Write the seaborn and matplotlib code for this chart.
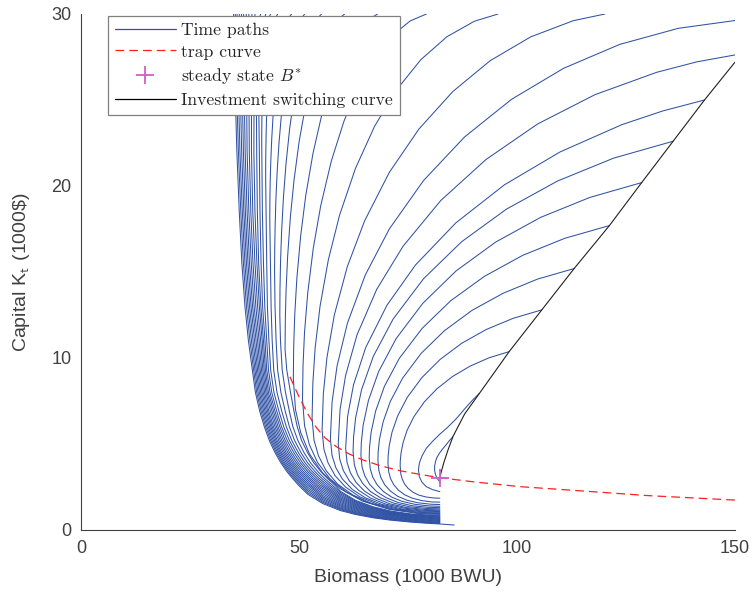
import numpy as np
import pandas as pd
import matplotlib
matplotlib.use("Agg")
import matplotlib.pyplot as plt
import seaborn as sns
from matplotlib.lines import Line2D

sns.set_theme(style="white")
plt.rcParams["font.family"] = ["Liberation Sans", "DejaVu Sans"]
plt.rcParams["mathtext.fontset"] = "cm"

# ---------------- values ----------------
TRAP_B = [47.9, 50, 52, 54, 56, 58.6, 61.5, 64.7, 68.6, 73.1, 78, 82.3, 90, 100.7, 114.4, 130, 150]
TRAP_K = [8.91, 7.75, 6.75, 5.95, 5.35, 4.84, 4.42, 4.07, 3.74, 3.45, 3.22, 3.04, 2.8, 2.52, 2.28, 2.0, 1.74]

SWITCH_B = [82.3, 82.6, 83.2, 84.1, 85.3, 88.0, 91.4, 98.2, 105.7, 113.1, 121.2, 128.6, 135.8, 143.0, 150.0]
SWITCH_K = [3.04, 3.35, 3.9, 4.6, 5.43, 6.75, 7.95, 10.37, 12.8, 15.2, 17.7, 20.2, 22.6, 25.0, 27.2]

STEADY_B = [82.3]
STEADY_K = [3.04]

# time paths traced point by point (B, K)
PATH_B = {
    "C1": [85.3, 84.5, 83.7, 82.9, 82.2, 81.6, 81.3, 81.1, 81.1, 81.25, 81.5, 81.9, 82.3],
    "C2": [91.4, 89.8, 88.2, 86.0, 84.0, 82.2, 80.5, 79.2, 78.2, 77.6, 77.4, 77.6, 78.2, 79.2, 80.6, 82.3],
    "C3": [98.2, 93.56, 89.18, 85.19, 81.68, 78.71, 76.34, 74.78, 73.87, 73.4, 73.24, 73.2, 73.34, 73.66, 74.2, 75.02, 76.11, 77.48, 79.12, 80.94, 82.3],
    "C4": [105.71, 99.15, 92.97, 87.34, 82.38, 78.18, 74.83, 72.64, 71.34, 70.68, 70.45, 70.4, 70.58, 71.0, 71.71, 72.78, 74.21, 75.99, 78.14, 80.52, 82.3],
    "C5": [113.1, 104.74, 96.86, 89.69, 83.37, 78.02, 73.74, 70.95, 69.3, 68.46, 68.16, 68.1, 68.31, 68.81, 69.66, 70.94, 72.64, 74.77, 77.33, 80.17, 82.3],
    "C6": [121.21, 110.97, 101.32, 92.54, 84.8, 78.24, 73.01, 69.59, 67.57, 66.54, 66.18, 66.1, 66.34, 66.91, 67.88, 69.34, 71.28, 73.71, 76.63, 79.87, 82.3],
    "C7": [128.62, 116.65, 105.37, 95.11, 86.06, 78.4, 72.28, 68.28, 65.92, 64.71, 64.29, 64.2, 64.47, 65.11, 66.19, 67.82, 69.99, 72.71, 75.97, 79.59, 82.3],
    "C8": [135.78, 122.16, 109.3, 97.61, 87.3, 78.57, 71.6, 67.05, 64.36, 62.99, 62.51, 62.4, 62.7, 63.4, 64.59, 66.38, 68.77, 71.75, 75.34, 79.32, 82.3],
    "C9": [143.0, 133.39, 123.99, 109.88, 97.12, 85.99, 76.69, 70.18, 65.32, 62.51, 61.15, 60.7, 61.02, 61.78, 63.08, 65.02, 67.61, 70.85, 74.74, 79.06, 82.3],
    "C10": [150, 141.27, 132.04, 117.89, 104.75, 92.89, 82.53, 73.87, 67.82, 63.3, 60.69, 59.42, 59.0, 59.35, 60.17, 61.56, 63.66, 66.46, 69.95, 74.15, 78.81, 82.3],
    "C11": [150, 137.04, 123.53, 110.67, 98.75, 87.97, 78.57, 70.71, 65.21, 61.1, 58.73, 57.58, 57.2, 57.58, 58.46, 59.96, 62.22, 65.23, 69.0, 73.52, 78.54, 82.3],
    "C12": [120.17, 112.89, 103.14, 93.87, 85.27, 77.5, 70.71, 65.04, 61.08, 58.11, 56.41, 55.58, 55.3, 55.71, 56.65, 58.27, 60.7, 63.94, 67.99, 72.85, 78.25, 82.3],
    "C13": [95.67, 90.23, 83.93, 77.93, 72.37, 67.35, 62.96, 59.3, 56.74, 54.82, 53.71, 53.18, 53.0, 53.44, 54.47, 56.22, 58.86, 62.38, 66.77, 72.05, 77.91, 82.3],
    "C14": [79.23, 75.51, 71.33, 67.35, 63.66, 60.33, 57.41, 54.98, 53.28, 52.01, 51.27, 50.92, 50.8, 51.27, 52.38, 54.27, 57.1, 60.88, 65.61, 71.28, 77.58, 82.3],
    "C15": [68.03, 65.57, 62.72, 60.0, 57.48, 55.2, 53.22, 51.55, 50.39, 49.52, 49.02, 48.78, 48.7, 49.2, 50.38, 52.4, 55.42, 59.45, 64.49, 70.54, 77.26, 82.3],
    "C16": [60.47, 58.84, 56.8, 54.86, 53.07, 51.44, 50.02, 48.84, 48.01, 47.39, 47.03, 46.86, 46.8],
    "C17": [55.18, 54.0, 52.57, 51.22, 49.97, 48.84, 47.85, 47.02, 46.44, 46.01, 45.76, 45.64, 45.6],
    "C18": [51.32, 50.42, 49.4, 48.43, 47.53, 46.72, 46.01, 45.42, 45.0, 44.69, 44.52, 44.43, 44.4],
    "C19": [48.3, 47.66, 46.92, 46.22, 45.57, 44.98, 44.47, 44.04, 43.74, 43.51, 43.38, 43.32, 43.3],
    "C20": [45.09, 44.77, 44.36, 43.97, 43.61, 43.28, 43.0, 42.76, 42.59, 42.47, 42.4, 42.36, 42.35],
    "C21": [43.5, 43.23, 42.93, 42.64, 42.38, 42.14, 41.93, 41.75, 41.63, 41.54, 41.48, 41.46, 41.45],
    "C22": [42.4, 41.92, 41.5, 41.16, 40.94, 40.83, 40.8],
    "C23": [41.2, 40.92, 40.65, 40.43, 40.29, 40.22, 40.2],
}
PATH_K = {
    "C1": [5.42, 5.2, 4.94, 4.7, 4.46, 4.2, 3.97, 3.7, 3.49, 3.27, 3.1, 2.93, 2.81],
    "C2": [7.95, 7.55, 7.1, 6.45, 5.95, 5.55, 5.12, 4.75, 4.3, 3.88, 3.5, 3.1, 2.78, 2.52, 2.35, 2.23],
    "C3": [10.37, 10.01, 9.52, 8.92, 8.22, 7.44, 6.58, 5.79, 5.08, 4.48, 4.05, 3.75, 3.27, 2.97, 2.68, 2.42, 2.2, 2.03, 1.92, 1.86, 1.85],
    "C4": [12.8, 12.31, 11.66, 10.86, 9.92, 8.86, 7.71, 6.64, 5.69, 4.88, 4.31, 3.9, 3.38, 2.99, 2.64, 2.32, 2.05, 1.85, 1.71, 1.63, 1.62],
    "C5": [15.2, 14.59, 13.77, 12.77, 11.59, 10.27, 8.82, 7.48, 6.29, 5.28, 4.56, 4.05, 3.46, 3.03, 2.63, 2.27, 1.96, 1.73, 1.58, 1.5, 1.48],
    "C6": [17.7, 16.96, 15.97, 14.75, 13.33, 11.72, 9.98, 8.35, 6.91, 5.68, 4.82, 4.2, 3.55, 3.08, 2.64, 2.24, 1.91, 1.66, 1.49, 1.4, 1.38],
    "C7": [20.2, 19.33, 18.17, 16.74, 15.07, 13.18, 11.13, 9.22, 7.53, 6.09, 5.08, 4.35, 3.65, 3.14, 2.66, 2.23, 1.88, 1.6, 1.41, 1.32, 1.3],
    "C8": [22.6, 21.62, 20.29, 18.66, 16.76, 14.61, 12.27, 10.1, 8.17, 6.53, 5.38, 4.55, 3.79, 3.23, 2.71, 2.24, 1.86, 1.56, 1.35, 1.25, 1.23],
    "C9": [25.0, 24.36, 23.56, 21.98, 20.07, 17.86, 15.4, 13.07, 10.62, 8.45, 6.61, 4.75, 3.93, 3.33, 2.77, 2.26, 1.85, 1.52, 1.3, 1.19, 1.17],
    "C10": [27.62, 27.22, 26.61, 25.31, 23.61, 21.54, 19.16, 16.5, 13.99, 11.34, 8.99, 7.01, 5.0, 4.11, 3.46, 2.85, 2.31, 1.85, 1.5, 1.27, 1.14, 1.12],
    "C11": [29.62, 29.17, 28.23, 26.84, 25.04, 22.85, 20.32, 17.5, 14.83, 12.02, 9.54, 7.43, 5.3, 4.33, 3.62, 2.96, 2.36, 1.87, 1.49, 1.23, 1.1, 1.07],
    "C12": [30.0, 29.61, 28.67, 27.29, 25.49, 23.31, 20.79, 17.97, 15.31, 12.51, 10.03, 7.92, 5.8, 4.7, 3.91, 3.16, 2.49, 1.93, 1.5, 1.21, 1.06, 1.03],
    "C13": [30.0, 29.58, 28.68, 27.34, 25.59, 23.48, 21.03, 18.3, 15.72, 13.0, 10.6, 8.56, 6.5, 5.23, 4.31, 3.45, 2.67, 2.03, 1.53, 1.2, 1.02, 0.99],
    "C14": [30.0, 29.6, 28.73, 27.46, 25.79, 23.78, 21.45, 18.85, 16.39, 13.8, 11.5, 9.56, 7.6, 6.07, 4.96, 3.92, 2.98, 2.2, 1.61, 1.2, 0.99, 0.95],
    "C15": [30.0, 29.62, 28.81, 27.6, 26.02, 24.11, 21.91, 19.45, 17.12, 14.67, 12.5, 10.66, 8.8, 6.99, 5.67, 4.43, 3.32, 2.4, 1.69, 1.21, 0.96, 0.91],
    "C16": [30.0, 29.67, 28.92, 27.8, 26.36, 24.6, 22.57, 20.3, 18.16, 15.9, 13.9, 12.21, 10.5],
    "C17": [30.0, 29.7, 29.02, 28.02, 26.72, 25.15, 23.32, 21.29, 19.37, 17.35, 15.55, 14.03, 12.5],
    "C18": [30.0, 29.73, 29.15, 28.3, 27.18, 25.83, 24.27, 22.53, 20.88, 19.15, 17.61, 16.31, 15.0],
    "C19": [30.0, 29.79, 29.32, 28.64, 27.75, 26.67, 25.42, 24.03, 22.71, 21.32, 20.09, 19.05, 18.0],
    "C20": [30.0, 29.84, 29.47, 28.93, 28.23, 27.37, 26.38, 25.28, 24.23, 23.13, 22.16, 21.33, 20.5],
    "C21": [30.0, 29.87, 29.58, 29.15, 28.59, 27.92, 27.14, 26.27, 25.44, 24.58, 23.81, 23.16, 22.5],
    "C22": [30.0, 29.65, 28.86, 27.7, 26.35, 25.04, 24.0],
    "C23": [30.0, 29.75, 29.16, 28.28, 27.27, 26.28, 25.5],
}

# left bundle (and lower parts of C16-C23): B read along rows of constant K ...
ROW_K = [30, 26, 22, 18.5, 15.5, 13, 11, 9.3, 8.0, 6.9, 6.0, 5.2, 4.5, 3.9, 3.4, 3.0, 2.6]
N = None
ROW_B = {
    "C16": [N, N, N, N, N, N, N, 47.2, 48.05, 48.85, 49.6, 50.6, 51.95, 53.4, 55.0, 56.5, 58.25],
    "C17": [N, N, N, N, N, N, 45.75, 46.15, 46.9, 47.8, 48.6, 49.75, 51.15, 52.65, 54.3, 55.85, 57.65],
    "C18": [N, N, N, N, N, 44.5, 44.75, 45.1, 45.85, 46.85, 47.8, 49.0, 50.45, 52.0, 53.65, 55.25, 57.1],
    "C19": [N, N, N, N, 43.45, 43.6, 43.85, 44.2, 44.95, 46.05, 47.1, 48.35, 49.85, 51.4, 53.05, 54.65, 56.55],
    "C20": [N, N, N, 42.45, 42.6, 42.75, 43.1, 43.5, 44.25, 45.4, 46.5, 47.8, 49.3, 50.85, 52.5, 54.1, 56.0],
    "C21": [N, N, 41.47, 41.6, 41.85, 42.15, 42.6, 43.0, 43.75, 44.9, 46.0, 47.3, 48.8, 50.35, 52.0, 53.55, 55.45],
    "C22": [N, N, 40.9, 41.05, 41.3, 41.65, 42.2, 42.6, 43.35, 44.5, 45.6, 46.85, 48.3, 49.85, 51.5, 53.05, 54.9],
    "C23": [N, N, 40.3, 40.45, 40.75, 41.25, 41.85, 42.3, 43.0, 44.15, 45.2, 46.45, 47.85, 49.4, 51.0, 52.55, 54.35],
    "b9": [39.9, 39.7, 39.65, 39.9, 40.35, 40.9, 41.55, 42.0, 42.7, 43.8, 44.85, 46.05, 47.45, 48.95, 50.55, 52.1, 53.85],
    "b8": [39.2, 39.1, 39.1, 39.4, 39.9, 40.5, 41.2, 41.7, 42.4, 43.45, 44.5, 45.7, 47.05, 48.55, 50.1, 51.65, 53.35],
    "b7": [38.5, 38.5, 38.6, 38.95, 39.45, 40.1, 40.85, 41.4, 42.1, 43.1, 44.15, 45.35, 46.7, 48.15, 49.7, 51.2, 52.85],
    "b6": [37.9, 37.95, 38.1, 38.5, 39.05, 39.7, 40.5, 41.1, 41.8, 42.8, 43.85, 45.0, 46.35, 47.8, 49.3, 50.75, 52.4],
    "b5": [37.3, 37.4, 37.65, 38.1, 38.65, 39.35, 40.15, 40.8, 41.5, 42.5, 43.55, 44.7, 46.0, 47.45, 48.9, 50.35, 51.95],
    "b4": [36.8, 36.95, 37.25, 37.7, 38.3, 39.0, 39.8, 40.5, 41.2, 42.2, 43.25, 44.4, 45.7, 47.1, 48.55, 49.95, 51.5],
    "b3": [36.3, 36.5, 36.85, 37.35, 37.95, 38.65, 39.45, 40.2, 40.9, 41.9, 42.95, 44.1, 45.4, 46.75, 48.2, 49.55, 51.1],
    "b2": [35.8, 36.05, 36.45, 37.0, 37.6, 38.3, 39.1, 39.9, 40.6, 41.6, 42.65, 43.8, 45.1, 46.45, 47.85, 49.2, 50.7],
    "b1": [35.4, 35.65, 36.1, 36.65, 37.25, 37.95, 38.75, 39.6, 40.3, 41.3, 42.35, 43.5, 44.8, 46.15, 47.5, 48.85, 50.3],
    "b0": [35.0, 35.3, 35.75, 36.3, 36.9, 37.6, 38.4, 39.3, 40.0, 41.0, 42.05, 43.2, 44.5, 45.85, 47.2, 48.5, 49.9],
}
# ... and K read along columns of constant B (flat lower part)
COL_B = [52, 55.5, 59.5, 63, 67, 71, 75.5, 79, 82.3]
COL_K = {
    "C16": [N, N, 2.25, 1.72, 1.35, 1.1, 0.94, 0.885, 0.87],
    "C17": [N, N, 2.18, 1.67, 1.31, 1.075, 0.91, 0.855, 0.83],
    "C18": [N, N, 2.1, 1.62, 1.27, 1.05, 0.885, 0.825, 0.79],
    "C19": [N, N, 2.02, 1.57, 1.23, 1.02, 0.86, 0.8, 0.76],
    "C20": [N, N, 1.94, 1.52, 1.19, 0.99, 0.835, 0.775, 0.73],
    "C21": [N, N, 1.87, 1.47, 1.15, 0.96, 0.81, 0.745, 0.7],
    "C22": [N, 2.5, 1.8, 1.42, 1.11, 0.93, 0.785, 0.715, 0.67],
    "C23": [N, 2.4, 1.73, 1.37, 1.07, 0.9, 0.755, 0.685, 0.64],
    "b9": [N, 2.3, 1.66, 1.32, 1.03, 0.87, 0.725, 0.655, 0.61],
    "b8": [N, 2.2, 1.59, 1.27, 0.99, 0.84, 0.695, 0.625, 0.58],
    "b7": [N, 2.1, 1.52, 1.22, 0.95, 0.805, 0.665, 0.595, 0.55],
    "b6": [N, 2.0, 1.46, 1.17, 0.91, 0.77, 0.635, 0.565, 0.52],
    "b5": [N, 1.91, 1.4, 1.12, 0.87, 0.735, 0.605, 0.535, 0.49],
    "b4": [2.48, 1.83, 1.34, 1.07, 0.83, 0.7, 0.575, 0.505, 0.46],
    "b3": [2.37, 1.75, 1.28, 1.02, 0.8, 0.67, 0.545, 0.48, 0.435],
    "b2": [2.27, 1.67, 1.23, 0.98, 0.77, 0.635, 0.515, 0.455, 0.41],
    "b1": [2.17, 1.6, 1.18, 0.94, 0.74, 0.605, 0.49, 0.425, 0.38],
    "b0": [2.08, 1.53, 1.13, 0.9, 0.71, 0.574, 0.464, 0.398, 0.35],
}
LOWEST_TAIL_B = [85.6]
LOWEST_TAIL_K = [0.29]

BLUE = "#3052a4"
RED = "#ff1f1f"
MAG = "#d060c4"

# ---------------- assemble long table ----------------
curves = {}
for name in PATH_B:
    curves.setdefault(name, []).extend(zip(PATH_B[name], PATH_K[name]))
for name in ROW_B:
    curves.setdefault(name, []).extend((b, k) for b, k in zip(ROW_B[name], ROW_K) if b is not None)
    curves[name].extend((b, k) for b, k in zip(COL_B, COL_K[name]) if k is not None)
curves["b0"].extend(zip(LOWEST_TAIL_B, LOWEST_TAIL_K))

rows = []
for name, pts in curves.items():
    pts = sorted(pts, key=lambda p: (-p[1], p[0]))
    for j, (b, k) in enumerate(pts):
        rows.append({"path": name, "order": j, "B": b, "K": k})
df = pd.DataFrame(rows).sort_values(["path", "order"])

fig = plt.figure(figsize=(7.53, 5.98), dpi=100)
ax = fig.add_axes([81 / 753, 1 - 530 / 598, 654 / 753, 516 / 598])

sns.lineplot(data=df, x="B", y="K", units="path", estimator=None, sort=False,
             color=BLUE, lw=0.75, ax=ax, legend=False)
sns.lineplot(x=TRAP_B, y=TRAP_K, sort=False, color=RED, lw=0.9, ax=ax,
             linestyle=(0, (7, 4)), legend=False)
sns.lineplot(x=SWITCH_B, y=SWITCH_K, sort=False, color="#202020", lw=0.8, ax=ax, legend=False)
sns.scatterplot(x=STEADY_B, y=STEADY_K, marker="+", s=180, color=MAG, linewidth=1.3, ax=ax,
                legend=False, zorder=5)

ax.set_xlim(0, 150)
ax.set_ylim(0, 30)
ax.set_xticks([0, 50, 100, 150])
ax.set_yticks([0, 10, 20, 30])
for s in ["top", "right"]:
    ax.spines[s].set_visible(False)
for s in ["left", "bottom"]:
    ax.spines[s].set_color("#404040")
    ax.spines[s].set_linewidth(0.8)
ax.tick_params(direction="in", length=4, width=0.8, color="#404040",
               labelsize=13, labelcolor="#404040", pad=7)
ax.set_xlabel("Biomass (1000 BWU)", fontsize=14, color="#404040", labelpad=9)
ax.set_ylabel(r"Capital K$_\mathsf{t}$ (1000\$)", fontsize=14, color="#404040", labelpad=14)

handles = [
    Line2D([], [], color=BLUE, lw=0.9),
    Line2D([], [], color=RED, lw=0.9, linestyle=(0, (7, 4))),
    Line2D([], [], color=MAG, lw=0, marker="+", markersize=13, markeredgewidth=1.3),
    Line2D([], [], color="black", lw=0.9),
]
labels = ["Time paths", "trap curve", r"steady state $B^{*}$", "Investment switching curve"]
leg = ax.legend(handles, labels, loc="upper left", bbox_to_anchor=(0.041, 0.997),
                borderaxespad=0, prop={"family": "cmr10", "size": 12.7},
                handlelength=3.45, handletextpad=0.3, labelspacing=0.36,
                borderpad=0.4, fancybox=False, framealpha=1)
leg.get_frame().set_edgecolor("#808080")
leg.get_frame().set_linewidth(0.9)
leg.set_zorder(10)

fig.savefig("out.png", dpi=100)
